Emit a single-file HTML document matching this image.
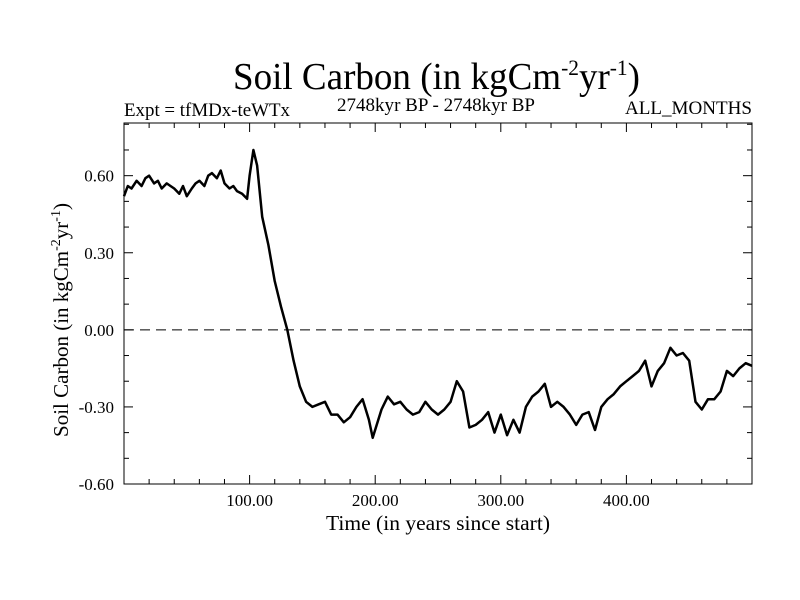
<!DOCTYPE html>
<html><head><meta charset="utf-8"><style>
html,body{margin:0;padding:0;background:#fff;}
svg{display:block;font-family:"Liberation Serif",serif;}
</style></head><body>
<svg id="chart" width="800" height="600">
<text x="233" y="89" font-size="38" textLength="407" lengthAdjust="spacingAndGlyphs">Soil Carbon (in kgCm<tspan dy="-14" font-size="22">-2</tspan><tspan dy="14">yr</tspan><tspan dy="-14" font-size="22">-1</tspan><tspan dy="14">)</tspan></text>
<text x="124" y="116" font-size="19" textLength="166" lengthAdjust="spacingAndGlyphs">Expt = tfMDx-teWTx</text>
<text x="337" y="111" font-size="19" textLength="198" lengthAdjust="spacingAndGlyphs">2748kyr BP - 2748kyr BP</text>
<text x="625" y="114" font-size="19" textLength="127" lengthAdjust="spacingAndGlyphs">ALL_MONTHS</text>
<text x="438" y="530" font-size="21" text-anchor="middle" textLength="224" lengthAdjust="spacingAndGlyphs">Time (in years since start)</text>
<text transform="translate(68,320) rotate(-90)" font-size="21" text-anchor="middle">Soil Carbon (in kgCm<tspan dy="-8" font-size="14">-2</tspan><tspan dy="8">yr</tspan><tspan dy="-8" font-size="14">-1</tspan><tspan dy="8">)</tspan></text>
<g id="axes"></g>
<g id="series"></g>
</svg>
<script>
const years=[0,3,6,10,14,17,20,24,27,30,34,37,40,44,47,50,54,57,60,64,67,70,74,77,80,84,87,90,94,98,100,103,106,110,115,120,125,130,135,140,145,150,155,160,165,170,175,180,185,190,195,198,205,210,215,220,225,230,235,240,245,250,255,260,265,270,275,280,285,290,295,300,305,310,315,320,325,330,335,340,345,350,355,360,365,370,375,380,385,390,395,400,405,410,415,420,425,430,435,440,445,450,455,460,465,470,475,480,485,490,495,500];
const values=[0.52,0.56,0.55,0.58,0.56,0.59,0.60,0.57,0.58,0.55,0.57,0.56,0.55,0.53,0.56,0.52,0.55,0.57,0.58,0.56,0.60,0.61,0.59,0.62,0.57,0.55,0.56,0.54,0.53,0.51,0.60,0.70,0.64,0.44,0.33,0.19,0.09,0.00,-0.12,-0.22,-0.28,-0.30,-0.29,-0.28,-0.33,-0.33,-0.36,-0.34,-0.30,-0.27,-0.35,-0.42,-0.31,-0.26,-0.29,-0.28,-0.31,-0.33,-0.32,-0.28,-0.31,-0.33,-0.31,-0.28,-0.20,-0.24,-0.38,-0.37,-0.35,-0.32,-0.40,-0.33,-0.41,-0.35,-0.40,-0.30,-0.26,-0.24,-0.21,-0.30,-0.28,-0.30,-0.33,-0.37,-0.33,-0.32,-0.39,-0.30,-0.27,-0.25,-0.22,-0.20,-0.18,-0.16,-0.12,-0.22,-0.16,-0.13,-0.07,-0.10,-0.09,-0.12,-0.28,-0.31,-0.27,-0.27,-0.24,-0.16,-0.18,-0.15,-0.13,-0.14];
const xTicks=[100,200,300,400];
const xTickLabels=["100.00","200.00","300.00","400.00"];
const yTicks=[0.6,0.3,0,-0.3,-0.6];
const yTickLabels=["0.60","0.30","0.00","-0.30","-0.60"];
const X0=124,X1=752,Y0=123,Y1=484,XMIN=0,XMAX=500,YMIN=-0.6,YMAX=0.805;
const sx=v=>X0+(v-XMIN)/(XMAX-XMIN)*(X1-X0);
const sy=v=>Y1-(v-YMIN)/(YMAX-YMIN)*(Y1-Y0);
const NS="http://www.w3.org/2000/svg";
const axes=document.getElementById('axes'),series=document.getElementById('series');
function mk(t,a,p){const e=document.createElementNS(NS,t);for(const k in a)e.setAttribute(k,a[k]);p.appendChild(e);return e;}
const frame=mk('rect',{x:X0,y:Y0,width:X1-X0,height:Y1-Y0,fill:'none',stroke:'#000','stroke-width':1},axes);


for(let v=20;v<XMAX;v+=20){const big=v%100===0;const L=big?9:5;
 const t1=mk('line',{x1:sx(v),x2:sx(v),y1:Y1,y2:Y1-L,stroke:'#000'},axes);
 
 
 const t2=mk('line',{x1:sx(v),x2:sx(v),y1:Y0,y2:Y0+L,stroke:'#000'},axes);
 
 }
for(let v=-0.5;v<0.8;v+=0.1){const r=Math.round(v*10);const big=r%3===0;const L=big?9:5;
 const t1=mk('line',{x1:X0,x2:X0+L,y1:sy(r/10),y2:sy(r/10),stroke:'#000'},axes);
 
 
 const t2=mk('line',{x1:X1,x2:X1-L,y1:sy(r/10),y2:sy(r/10),stroke:'#000'},axes);
 
 }
xTicks.forEach((v,i)=>{const t=mk('text',{x:sx(v),y:Y1+22,'font-size':17,'text-anchor':'middle'},axes);t.textContent=xTickLabels[i];
 
 });
yTicks.forEach((v,i)=>{const t=mk('text',{x:X0-10,y:sy(v)+6,'font-size':17,'text-anchor':'end'},axes);t.textContent=yTickLabels[i];
 
 });
const zl=mk('line',{x1:X0,x2:X1,y1:sy(0),y2:sy(0),stroke:'#000','stroke-dasharray':'10,6'},axes);


const d=years.map((y,i)=>(i?'L':'M')+sx(y).toFixed(1)+','+sy(values[i]).toFixed(1)).join('');
const p=mk('path',{d:d,fill:'none',stroke:'#000','stroke-width':2.5,'stroke-linejoin':'round'},series);


</script>
</body></html>
